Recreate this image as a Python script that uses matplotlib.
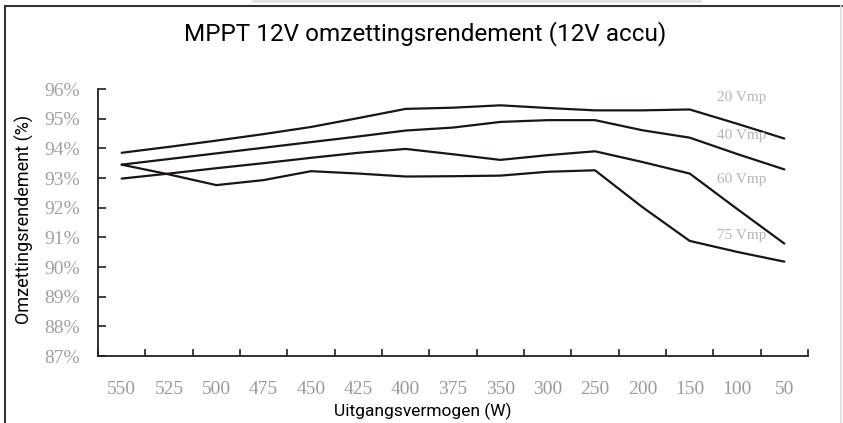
import matplotlib.pyplot as plt
from matplotlib.lines import Line2D

power_labels = ["550", "525", "500", "475", "450", "425", "400", "375",
                "350", "300", "250", "200", "150", "100", "50"]

eff_20 = [93.85, 94.05, 94.26, 94.48, 94.72, 95.02, 95.33, 95.37,
          95.45, 95.36, 95.28, 95.28, 95.31, 94.83, 94.33]
eff_40 = [93.45, 93.64, 93.83, 94.02, 94.21, 94.40, 94.60, 94.70,
          94.89, 94.95, 94.95, 94.61, 94.36, 93.81, 93.29]
eff_60 = [92.98, 93.15, 93.33, 93.50, 93.68, 93.85, 93.98, 93.80,
          93.61, 93.77, 93.90, 93.54, 93.15, 91.96, 90.79]
eff_75 = [93.45, 93.12, 92.76, 92.93, 93.23, 93.15, 93.05, 93.06,
          93.08, 93.21, 93.26, 92.02, 90.88, 90.51, 90.18]

curve_names = ["20 Vmp", "40 Vmp", "60 Vmp", "75 Vmp"]
name_y = [95.72, 94.44, 92.96, 91.07]

y_ticks = list(range(87, 97))

fig = plt.figure(figsize=(8.43, 4.23), dpi=100)
ax = fig.add_axes([98 / 843, 67 / 423, 710 / 843, 267 / 423])

x = list(range(len(power_labels)))
line_col = "#1c1414"
for series in [eff_20, eff_40, eff_60, eff_75]:
    ax.plot(x, series, color=line_col, lw=1.6, solid_capstyle="round")

for name, ny in zip(curve_names, name_y):
    ax.text(13.1, ny, name, ha="center", va="center", color="#b4b4b4",
            fontsize=11, family="Liberation Serif")

ax.set_xlim(-0.5, 14.5)
ax.set_ylim(87, 96)
ax.spines["top"].set_visible(False)
ax.spines["right"].set_visible(False)
for s in ["left", "bottom"]:
    ax.spines[s].set_color("#222222")
    ax.spines[s].set_linewidth(1.3)

ax.set_xticks(x)
ax.set_xticklabels(power_labels, family="Liberation Serif", fontsize=14,
                   color="#9a9a9a")
ax.set_xticks([i - 0.5 for i in range(16)], minor=True)
ax.tick_params(axis="x", which="major", length=0, pad=18)
ax.tick_params(axis="x", which="minor", direction="in", length=5,
               width=1.2, color="#222222")

ax.set_yticks(y_ticks)
ax.set_yticklabels([f"{v}%" for v in y_ticks], family="Liberation Serif",
                   fontsize=14, color="#a0a0a0")
ax.tick_params(axis="y", direction="in", length=6, width=1.2,
               color="#222222", pad=13)

fig.text(425 / 843, 1 - 34 / 423, "MPPT 12V omzettingsrendement (12V accu)",
         ha="center", va="center", fontsize=17.5, family="Roboto")
fig.text(423 / 843, 1 - 411 / 423, "Uitgangsvermogen (W)",
         ha="center", va="center", fontsize=12.5, family="Roboto")
fig.text(24 / 843, 1 - 219 / 423, "Omzettingsrendement (%)", rotation=90,
         ha="center", va="center", fontsize=13, family="Roboto")

# frame around the picture
fig.add_artist(Line2D([5 / 843, 5 / 843], [0, 1 - 6 / 423],
                      transform=fig.transFigure, color="#333333", lw=1.5))
fig.add_artist(Line2D([5 / 843, 1], [1 - 6 / 423, 1 - 6 / 423],
                      transform=fig.transFigure, color="#333333", lw=1.5))
fig.add_artist(Line2D([841 / 843, 841 / 843], [0, 1 - 6 / 423],
                      transform=fig.transFigure, color="#dddddd", lw=1.2))
fig.add_artist(Line2D([253 / 843, 700 / 843], [1 - 1 / 423, 1 - 1 / 423],
                      transform=fig.transFigure, color="#e4e4e4", lw=2))

fig.savefig("out.png", dpi=100)
